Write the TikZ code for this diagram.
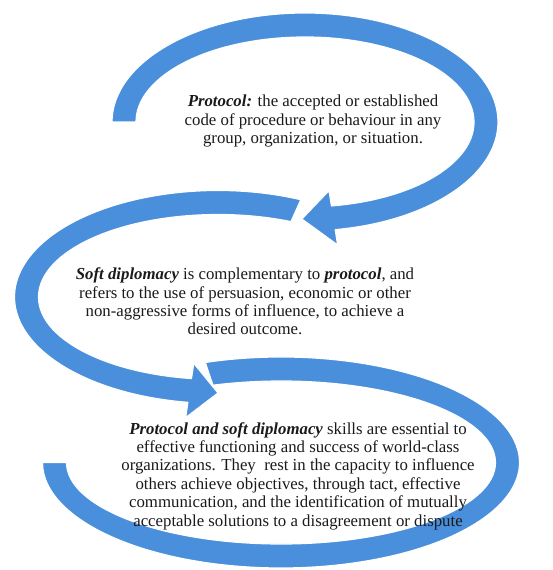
\documentclass[tikz,border=0pt]{standalone}
\usepackage{fontspec}
\setmainfont{Liberation Serif}
\usepackage{xcolor}
\usepackage{tikz}
\definecolor{bandblue}{HTML}{4A8FDB}
\definecolor{ink}{HTML}{1A1A1A}
\tikzset{
  band/.style={fill=bandblue, draw=white, line width=1.2pt, line join=round},
  note/.style={text=ink, align=center, inner sep=0pt, font=\fontsize{16.8}{18.4}\selectfont},
}

\begin{document}
\begin{tikzpicture}[x=1pt,y=1pt]
  \useasboundingbox (0,0) rectangle (553,570);

  % top arc, head at the bottom pointing left
  \begin{scope}[shift={(305,448)}]
    \path[band] (180:193pt and 109pt) arc[start angle=180, end angle=-81, x radius=193pt, y radius=109pt]
      -- (-81:208.5pt and 124.5pt) -- (-91:181pt and 97pt) -- (-81:153.5pt and 69.5pt)
      -- (-81:169pt and 85pt) arc[start angle=-81, end angle=180, x radius=169pt, y radius=85pt] -- cycle;
  \end{scope}

  % middle arc, head at the bottom pointing right
  \begin{scope}[shift={(218,273)}]
    \path[band] (66:203.5pt and 106.5pt) arc[start angle=66, end angle=261.5, x radius=203.5pt, y radius=106.5pt]
      -- (261.5:219pt and 122pt) -- (270:191.5pt and 96pt) -- (261.5:164pt and 67pt)
      -- (261.5:179.5pt and 82.5pt) arc[start angle=261.5, end angle=66, x radius=179.5pt, y radius=82.5pt] -- cycle;
  \end{scope}

  % bottom arc, no head
  \begin{scope}[shift={(281,107.5)}]
    \path[band] (108.5:238.5pt and 105.5pt) arc[start angle=108.5, end angle=-180, x radius=238.5pt, y radius=105.5pt]
      -- (180:214.5pt and 81.5pt) arc[start angle=-180, end angle=108.5, x radius=214.5pt, y radius=81.5pt] -- cycle;
  \end{scope}

  \node[note] (protocol) at (313,449) {\textbf{\textit{Protocol:}} the accepted or established\\
    code of procedure or behaviour in any\\
    group, organization, or situation.};
  \node[note] (soft) at (245,268.5) {\textbf{\textit{Soft diplomacy}} is complementary to \textbf{\textit{protocol}}, and\\
    refers to the use of persuasion, economic or other\\
    non-aggressive forms of influence, to achieve a\\
    desired outcome.};
  \node[note] (skills) at (298,94) {\textbf{\textit{Protocol and soft diplomacy}} skills are essential to\\
    effective functioning and success of world-class\\
    organizations. They~ rest in the capacity to influence\\
    others achieve objectives, through tact, effective\\
    communication, and the identification of mutually\\
    acceptable solutions to a disagreement or dispute};
\end{tikzpicture}
\end{document}
